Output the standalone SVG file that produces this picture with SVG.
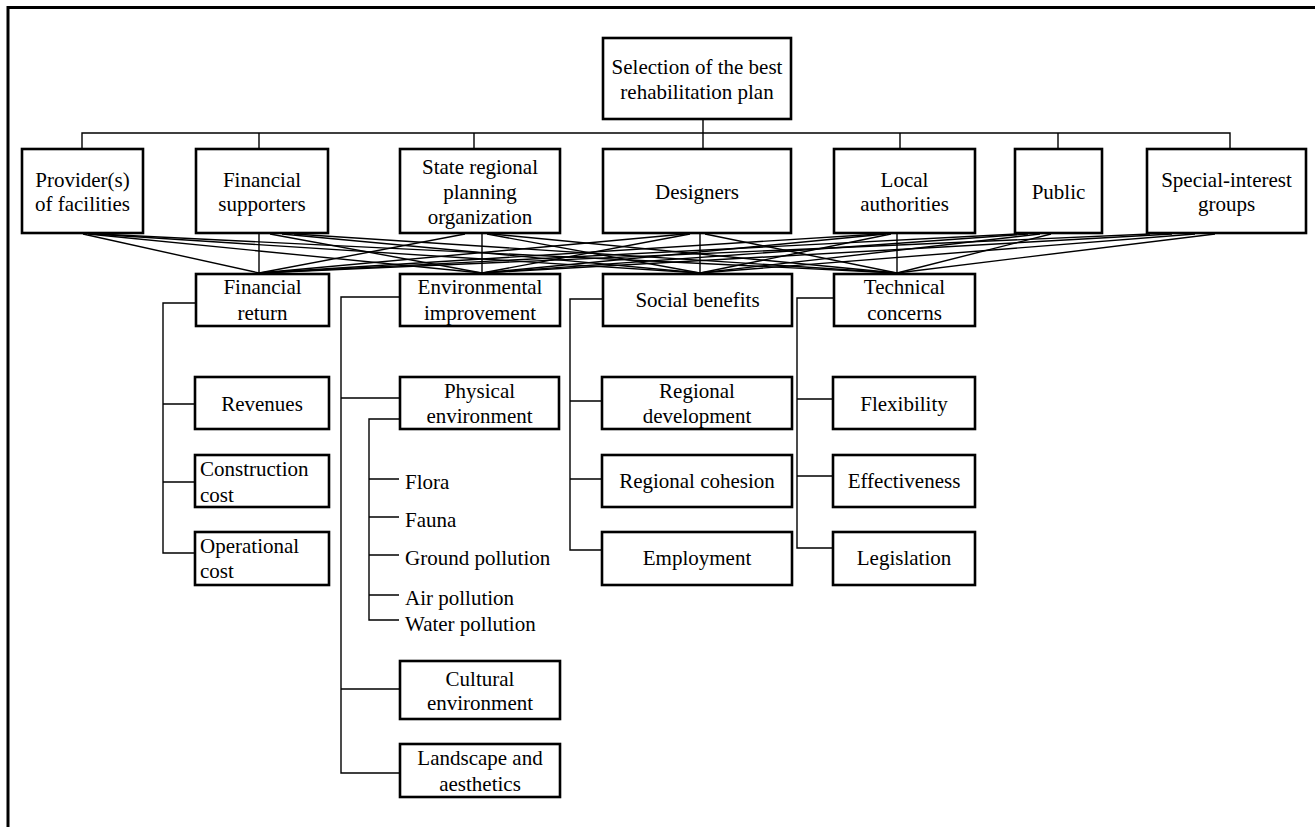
<svg xmlns="http://www.w3.org/2000/svg" width="1315" height="827" viewBox="0 0 1315 827">
<style>
.box{fill:#fff;stroke:#000;stroke-width:2.6}
.t{font-family:"Liberation Serif","Times New Roman",serif;font-size:21px;fill:#000;text-anchor:middle}
.l{font-family:"Liberation Serif","Times New Roman",serif;font-size:21px;fill:#000;text-anchor:start}
.c{fill:none;stroke:#000;stroke-width:1.4}
.frame{fill:none;stroke:#000;stroke-width:3}
</style>
<rect width="1315" height="827" fill="#fff"/>
<path class="frame" d="M8,827 V7.5 H1315"/>
<g id="connectors">
<path class="c" d="M82,149 V133 H1230 V149 M259,133 V149 M474,133 V149 M703,119 V149 M900,133 V149 M1058,133 V149"/>
<g id="cross">
<line class="c" x1="83" y1="234" x2="259" y2="273"/>
<line class="c" x1="88" y1="234" x2="482" y2="273"/>
<line class="c" x1="93" y1="234" x2="700" y2="273"/>
<line class="c" x1="98" y1="234" x2="897" y2="273"/>
<line class="c" x1="259" y1="234" x2="259" y2="273"/>
<line class="c" x1="270" y1="234" x2="482" y2="273"/>
<line class="c" x1="282" y1="234" x2="700" y2="273"/>
<line class="c" x1="294" y1="234" x2="897" y2="273"/>
<line class="c" x1="465" y1="234" x2="259" y2="273"/>
<line class="c" x1="482" y1="234" x2="482" y2="273"/>
<line class="c" x1="487" y1="234" x2="700" y2="273"/>
<line class="c" x1="492" y1="234" x2="897" y2="273"/>
<line class="c" x1="685" y1="234" x2="259" y2="273"/>
<line class="c" x1="690" y1="234" x2="482" y2="273"/>
<line class="c" x1="700" y1="234" x2="700" y2="273"/>
<line class="c" x1="705" y1="234" x2="897" y2="273"/>
<line class="c" x1="880" y1="234" x2="259" y2="273"/>
<line class="c" x1="886" y1="234" x2="482" y2="273"/>
<line class="c" x1="891" y1="234" x2="700" y2="273"/>
<line class="c" x1="897" y1="234" x2="897" y2="273"/>
<line class="c" x1="1017" y1="234" x2="259" y2="273"/>
<line class="c" x1="1028" y1="234" x2="482" y2="273"/>
<line class="c" x1="1040" y1="234" x2="700" y2="273"/>
<line class="c" x1="1051" y1="234" x2="897" y2="273"/>
<line class="c" x1="1150" y1="234" x2="259" y2="273"/>
<line class="c" x1="1172" y1="234" x2="482" y2="273"/>
<line class="c" x1="1195" y1="234" x2="700" y2="273"/>
<line class="c" x1="1215" y1="234" x2="897" y2="273"/>
</g>
<path class="c" d="M196,303 H163 V553 H195 M163,404 H195 M163,482 H195"/>
<path class="c" d="M400,297 H341 V773 H400 M341,398 H400 M341,689 H400"/>
<path class="c" d="M400,419 H369 V620 H399 M369,479 H399 M369,517 H399 M369,555 H399 M369,595 H399"/>
<path class="c" d="M603,299 H570 V550 H602 M570,401 H602 M570,479 H602"/>
<path class="c" d="M834,298 H797 V548 H833 M797,399 H833 M797,476 H833"/>
</g>
<g id="goal"><rect class="box" x="603" y="38" width="188" height="81"/><text class="t" x="697" y="74">Selection of the best</text><text class="t" x="697" y="99">rehabilitation plan</text></g>
<g id="provider"><rect class="box" x="22" y="149" width="121" height="84"/><text class="t" x="82.5" y="187">Provider(s)</text><text class="t" x="82.5" y="211">of facilities</text></g>
<g id="financial-supporters"><rect class="box" x="196" y="149" width="132" height="84"/><text class="t" x="262" y="187">Financial</text><text class="t" x="262" y="211">supporters</text></g>
<g id="state"><rect class="box" x="400" y="149" width="160" height="84"/><text class="t" x="480" y="174">State regional</text><text class="t" x="480" y="199">planning</text><text class="t" x="480" y="224">organization</text></g>
<g id="designers"><rect class="box" x="603" y="149" width="188" height="84"/><text class="t" x="697" y="199">Designers</text></g>
<g id="local"><rect class="box" x="834" y="149" width="141" height="84"/><text class="t" x="904.5" y="187">Local</text><text class="t" x="904.5" y="211">authorities</text></g>
<g id="public"><rect class="box" x="1015" y="149" width="87" height="84"/><text class="t" x="1058.5" y="199">Public</text></g>
<g id="special"><rect class="box" x="1147" y="149" width="159" height="84"/><text class="t" x="1226.5" y="187">Special-interest</text><text class="t" x="1226.5" y="211">groups</text></g>
<g id="financial-return"><rect class="box" x="196" y="274" width="133" height="52"/><text class="t" x="262.5" y="294">Financial</text><text class="t" x="262.5" y="320">return</text></g>
<g id="environmental"><rect class="box" x="400" y="274" width="160" height="52"/><text class="t" x="480" y="294">Environmental</text><text class="t" x="480" y="320">improvement</text></g>
<g id="social"><rect class="box" x="603" y="274" width="189" height="52"/><text class="t" x="697.5" y="307">Social benefits</text></g>
<g id="technical"><rect class="box" x="834" y="274" width="141" height="52"/><text class="t" x="904.5" y="294">Technical</text><text class="t" x="904.5" y="320">concerns</text></g>
<g id="revenues"><rect class="box" x="195" y="377" width="134" height="52"/><text class="t" x="262" y="411">Revenues</text></g>
<g id="construction"><rect class="box" x="195" y="455" width="134" height="52"/><text class="l" x="200" y="476">Construction</text><text class="l" x="200" y="502">cost</text></g>
<g id="operational"><rect class="box" x="195" y="532" width="134" height="53"/><text class="l" x="200" y="553">Operational</text><text class="l" x="200" y="578">cost</text></g>
<g id="physical"><rect class="box" x="400" y="377" width="159" height="52"/><text class="t" x="479.5" y="398">Physical</text><text class="t" x="479.5" y="423">environment</text></g>
<g id="flora"><text class="l" x="405" y="489">Flora</text></g>
<g id="fauna"><text class="l" x="405" y="527">Fauna</text></g>
<g id="ground"><text class="l" x="405" y="565">Ground pollution</text></g>
<g id="air"><text class="l" x="405" y="605">Air pollution</text></g>
<g id="water"><text class="l" x="405" y="631">Water pollution</text></g>
<g id="cultural"><rect class="box" x="400" y="661" width="160" height="58"/><text class="t" x="480" y="686">Cultural</text><text class="t" x="480" y="710">environment</text></g>
<g id="landscape"><rect class="box" x="400" y="744" width="160" height="53"/><text class="t" x="480" y="765">Landscape and</text><text class="t" x="480" y="791">aesthetics</text></g>
<g id="regional-development"><rect class="box" x="602" y="377" width="190" height="52"/><text class="t" x="697" y="398">Regional</text><text class="t" x="697" y="423">development</text></g>
<g id="regional-cohesion"><rect class="box" x="602" y="455" width="190" height="52"/><text class="t" x="697" y="488">Regional cohesion</text></g>
<g id="employment"><rect class="box" x="602" y="532" width="190" height="53"/><text class="t" x="697" y="565">Employment</text></g>
<g id="flexibility"><rect class="box" x="833" y="377" width="142" height="52"/><text class="t" x="904" y="411">Flexibility</text></g>
<g id="effectiveness"><rect class="box" x="833" y="455" width="142" height="52"/><text class="t" x="904" y="488">Effectiveness</text></g>
<g id="legislation"><rect class="box" x="833" y="532" width="142" height="53"/><text class="t" x="904" y="565">Legislation</text></g>
</svg>
